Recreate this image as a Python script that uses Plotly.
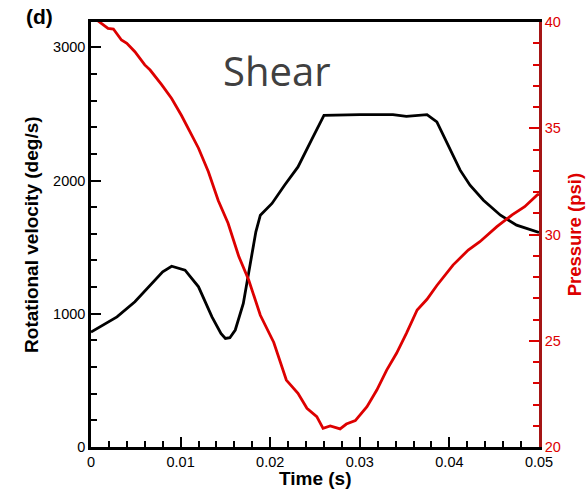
import plotly.graph_objects as go

# Rotational velocity (deg/s) vs time (s)
time_rot = [0, 0.0029, 0.0049, 0.0068, 0.0080, 0.0090, 0.0105, 0.0120, 0.0135, 0.0145,
            0.0150, 0.0155, 0.0161, 0.0170, 0.01775, 0.0184, 0.0189, 0.0202, 0.0216,
            0.0231, 0.0246, 0.0260, 0.0300, 0.0337, 0.0352, 0.0375, 0.0386, 0.0401,
            0.0412, 0.0423, 0.0438, 0.0457, 0.0475, 0.0500]
rot_vel = [862, 977, 1090, 1228, 1315, 1357, 1327, 1202, 977, 852,
           815, 820, 878, 1078, 1352, 1615, 1740, 1828, 1965,
           2102, 2303, 2490, 2495, 2495, 2482, 2495, 2440, 2227,
           2078, 1965, 1852, 1740, 1665, 1610]

# Pressure (psi) vs time (s)
time_p = [0, 0.001, 0.0019, 0.0025, 0.0034, 0.0040, 0.0049, 0.0060, 0.0066, 0.0079,
          0.0090, 0.0101, 0.0112, 0.0120, 0.0131, 0.0142, 0.0153, 0.0165, 0.0176,
          0.0189, 0.0204, 0.0218, 0.0231, 0.0241, 0.0252, 0.0259, 0.0267, 0.0278,
          0.0285, 0.0295, 0.0308, 0.0319, 0.0330, 0.0341, 0.0352, 0.0364, 0.0375,
          0.0386, 0.0404, 0.0421, 0.0434, 0.0453, 0.0470, 0.0484, 0.0498, 0.0500]
pressure = [40.3, 40.0, 39.7, 39.67, 39.15, 39.0, 38.6, 37.98, 37.74, 37.04,
            36.4, 35.6, 34.68, 34.06, 32.95, 31.6, 30.53, 28.96, 27.86,
            26.2, 24.92, 23.15, 22.53, 21.82, 21.43, 20.88, 20.99, 20.85,
            21.08, 21.24, 21.9, 22.68, 23.62, 24.41, 25.35, 26.45, 26.95,
            27.6, 28.56, 29.27, 29.66, 30.37, 30.92, 31.31, 31.86, 31.9]

RED = "#dd0000"
AXRED = "#a51515"
FONT = "Liberation Sans, Arial, sans-serif"

fig = go.Figure()
fig.add_trace(go.Scatter(x=time_rot, y=rot_vel, mode="lines",
                         line=dict(color="black", width=2.8), showlegend=False))
fig.add_trace(go.Scatter(x=time_p, y=pressure, mode="lines", yaxis="y2",
                         line=dict(color=RED, width=2.8), showlegend=False))

fig.update_layout(
    width=586, height=490,
    margin=dict(l=91, r=47, t=22, b=43),
    paper_bgcolor="white", plot_bgcolor="white",
    font=dict(family=FONT, size=14.5, color="black"),
    xaxis=dict(range=[0, 0.05], tickmode="linear", tick0=0, dtick=0.01,
               ticks="inside", ticklen=10, tickwidth=2, tickcolor="black",
               minor=dict(ticks="inside", ticklen=6, tickwidth=1.5, dtick=0.002, tickcolor="black"),
               showline=True, linecolor="black", linewidth=2.5, mirror=True,
               showgrid=False, zeroline=False),
    yaxis=dict(range=[0, 3190], tickmode="linear", tick0=0, dtick=1000, tickformat="d",
               ticks="inside", ticklen=10, tickwidth=2, tickcolor="black",
               minor=dict(ticks="inside", ticklen=6, tickwidth=1.5, dtick=200, tickcolor="black"),
               showline=True, linecolor="black", linewidth=2.5,
               showgrid=False, zeroline=False),
    yaxis2=dict(range=[20, 40], overlaying="y", side="right",
                tickmode="linear", tick0=20, dtick=5,
                ticks="inside", ticklen=10, tickwidth=2, tickcolor=RED,
                tickfont=dict(color=RED, size=14.5),
                minor=dict(ticks="inside", ticklen=6, tickwidth=1.5, dtick=1, tickcolor=RED),
                showline=True, linecolor=AXRED, linewidth=2.5,
                showgrid=False, zeroline=False),
    annotations=[
        dict(text="<b>Rotational velocity (deg/s)</b>", xref="paper", yref="paper",
             x=-0.133, y=0.5, xanchor="center", yanchor="middle", textangle=-90,
             showarrow=False, font=dict(size=19, color="black")),
        dict(text="<b>Time (s)</b>", xref="paper", yref="paper",
             x=0.5, y=-0.075, xanchor="center", yanchor="middle",
             showarrow=False, font=dict(size=19, color="black")),
        dict(text="<b>Pressure (psi)</b>", xref="paper", yref="paper",
             x=1.08, y=0.5, xanchor="center", yanchor="middle", textangle=-90,
             showarrow=False, font=dict(size=18.5, color=RED)),
        dict(text="<b>(d)</b>", xref="paper", yref="paper",
             x=-0.149, y=1.012, xanchor="left", yanchor="middle",
             showarrow=False, font=dict(size=21, color="black")),
        dict(text="Shear", xref="paper", yref="paper",
             x=0.416, y=0.886, xanchor="center", yanchor="middle",
             showarrow=False, font=dict(family="Open Sans, sans-serif", size=40, color="#404040")),
    ],
)

fig.write_html("out.html", config={"displayModeBar": False},
               post_script="document.body.style.margin='0';document.body.style.padding='0';")
